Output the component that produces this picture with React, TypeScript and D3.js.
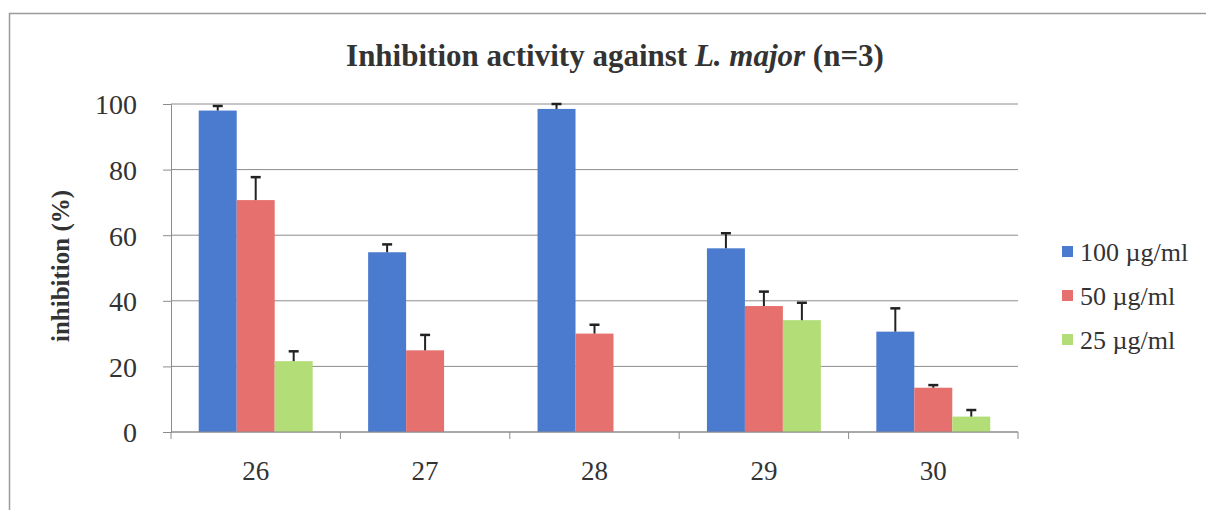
import React, { useEffect, useRef } from "react";
import * as d3 from "d3";

const categories = ["26", "27", "28", "29", "30"];
const seriesNames = ["100 µg/ml", "50 µg/ml", "25 µg/ml"];
const seriesColors = ["#4A7BCF", "#E6706E", "#B3DD77"];
// values per series (null = not measured)
const v100 = [98, 54.8, 98.5, 56, 30.6];
const v50 = [70.7, 24.9, 30, 38.4, 13.5];
const v25: (number | null)[] = [21.6, null, null, 34.1, 4.7];
// error bars (+ only)
const e100 = [1.4, 2.4, 1.5, 4.6, 7.1];
const e50 = [7, 4.7, 2.7, 4.4, 0.8];
const e25: (number | null)[] = [3, null, null, 5.3, 2];
const yTicks = [0, 20, 40, 60, 80, 100];

const App = () => {
    const ref = useRef<SVGSVGElement>(null);

    useEffect(() => {
        const svg = d3.select(ref.current);
        svg.selectAll("*").remove();
        const font = "Liberation Serif, DejaVu Serif, Times New Roman, serif";
        const left = 171, right = 1018, top = 104, bottom = 432;

        // outer frame
        svg.append("rect")
            .attr("x", 9.5).attr("y", 13.5)
            .attr("width", 1300).attr("height", 600)
            .attr("fill", "white").attr("stroke", "#9a9a9a").attr("stroke-width", 1.5);

        const x = d3.scaleBand().domain(categories).range([left, right]).paddingInner(0).paddingOuter(0);
        const y = d3.scaleLinear().domain([0, 100]).range([bottom, top]);
        const inner = d3.scaleBand().domain(["0", "1", "2"]).range([0, x.bandwidth()]).paddingOuter(0.73).paddingInner(0);

        // gridlines
        svg.append("g").selectAll("line").data(yTicks).enter().append("line")
            .attr("x1", left).attr("x2", right)
            .attr("y1", d => y(d)).attr("y2", d => y(d))
            .attr("stroke", "#8c8c8c").attr("stroke-width", 1);

        const series = [
            { vals: v100, errs: e100 },
            { vals: v50, errs: e50 },
            { vals: v25, errs: e25 },
        ];

        series.forEach((s, si) => {
            const pts = categories.map((c, i) => ({ c, v: s.vals[i], e: s.errs[i] })).filter(p => p.v != null);
            svg.append("g").selectAll("rect").data(pts).enter().append("rect")
                .attr("x", p => (x(p.c) as number) + (inner(String(si)) as number))
                .attr("y", p => y(p.v as number))
                .attr("width", inner.bandwidth())
                .attr("height", p => bottom - y(p.v as number))
                .attr("fill", seriesColors[si]);
            const eg = svg.append("g").attr("stroke", "#222").attr("stroke-width", 2);
            pts.forEach(p => {
                const cx = (x(p.c) as number) + (inner(String(si)) as number) + inner.bandwidth() / 2;
                const y0 = y(p.v as number), y1 = y((p.v as number) + (p.e as number));
                eg.append("line").attr("x1", cx).attr("x2", cx).attr("y1", y0).attr("y2", y1);
                eg.append("line").attr("x1", cx - 5).attr("x2", cx + 5).attr("y1", y1).attr("y2", y1).attr("stroke-width", 2.5);
            });
        });

        // axes
        const yAxis = d3.axisLeft(y).tickValues(yTicks).tickSize(8).tickPadding(26);
        const gy = svg.append("g").attr("transform", `translate(${left},0)`).call(yAxis);
        gy.selectAll("path, line").attr("stroke", "#8c8c8c");
        gy.selectAll("text").attr("font-family", font).attr("font-size", 28).attr("fill", "#333").attr("dy", "0.35em");

        const bounds = categories.map(c => x(c) as number).concat([right]);
        const xg = svg.append("g");
        xg.append("line").attr("x1", left).attr("x2", right).attr("y1", bottom).attr("y2", bottom).attr("stroke", "#8c8c8c");
        xg.selectAll("line.t").data(bounds).enter().append("line").attr("class", "t")
            .attr("x1", d => d).attr("x2", d => d).attr("y1", bottom).attr("y2", bottom + 7).attr("stroke", "#8c8c8c");
        xg.selectAll("text").data(categories).enter().append("text")
            .attr("x", d => (x(d) as number) + x.bandwidth() / 2).attr("y", 480)
            .attr("text-anchor", "middle").attr("font-family", font).attr("font-size", 27).attr("fill", "#333")
            .text(d => d);

        // title
        const title = svg.append("text").attr("x", 615).attr("y", 66).attr("text-anchor", "middle")
            .attr("font-family", font).attr("font-size", 31).attr("font-weight", "bold").attr("fill", "#333");
        title.append("tspan").text("Inhibition activity against ");
        title.append("tspan").attr("font-style", "italic").text("L. major");
        title.append("tspan").text(" (n=3)");

        // y label
        svg.append("text").attr("transform", "translate(69,266) rotate(-90)")
            .attr("text-anchor", "middle").attr("font-family", font).attr("font-size", 25)
            .attr("font-weight", "bold").attr("fill", "#333").text("inhibition (%)");

        // legend
        const lg = svg.append("g").selectAll("g").data(seriesNames).enter().append("g")
            .attr("transform", (d, i) => `translate(1062,${252 + i * 44})`);
        lg.append("rect").attr("x", 0).attr("y", -6).attr("width", 11).attr("height", 11)
            .attr("fill", (d, i) => seriesColors[i]);
        lg.append("text").attr("x", 18).attr("y", 0).attr("dy", "0.35em")
            .attr("font-family", font).attr("font-size", 26).attr("fill", "#333").text(d => d);
    }, []);

    return (
        <svg ref={ref} width={1206} height={510}
            style={{ position: "absolute", left: 0, top: 0, background: "white" }} />
    );
};

export default App;
